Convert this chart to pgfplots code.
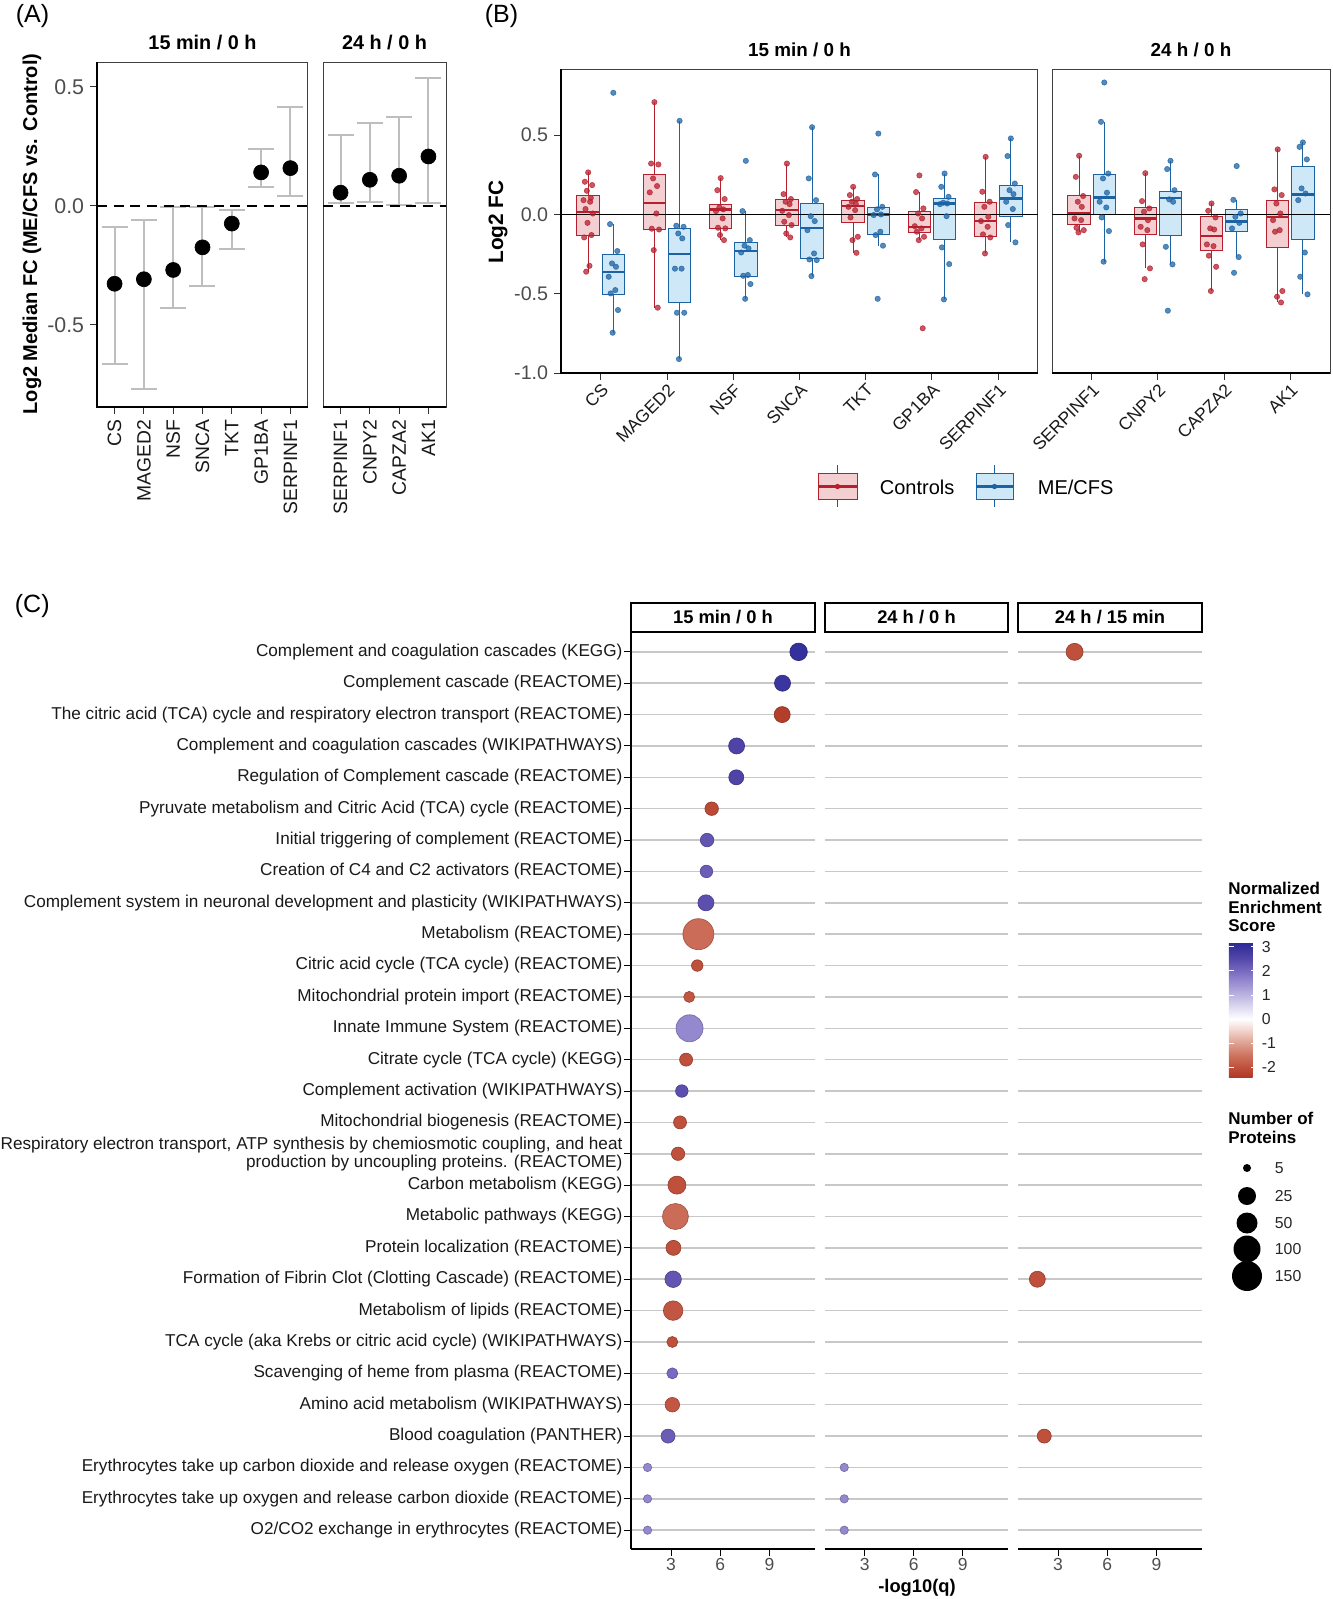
\documentclass[border=0pt]{standalone}
\usepackage{fontspec}
\setmainfont{Liberation Sans}
\usepackage{pgfplots}
\pgfplotsset{compat=1.18}
\usepgfplotslibrary{statistics}

\definecolor{ctrl}{HTML}{B51F2E}
\definecolor{ctrlfill}{HTML}{F3CFD1}
\definecolor{mecfs}{HTML}{1D63A3}
\definecolor{mefill}{HTML}{CFE8F8}
\definecolor{ticklab}{HTML}{4D4D4D}
\definecolor{errgray}{HTML}{BEBEBE}
\definecolor{gridgray}{HTML}{C8C8C8}

\pgfplotsset{
  colormap={nes}{rgb255(0pt)=(176,58,38) rgb255(4pt)=(190,80,60) rgb255(9pt)=(206,115,95)
    rgb255(14pt)=(222,160,145) rgb255(19pt)=(240,208,200) rgb255(24pt)=(255,255,255)
    rgb255(29pt)=(222,218,240) rgb255(34pt)=(188,180,225) rgb255(39pt)=(155,143,210)
    rgb255(44pt)=(120,106,192) rgb255(49pt)=(85,72,170) rgb255(56pt)=(40,40,150)},
  base/.style={scale only axis, clip=false, tick align=outside, tick pos=left,
    major tick length=4.2pt, tick style={black!80, line width=0.6pt},
    /pgf/number format/assume math mode=true,
    axis line style={black!75, line width=0.6pt}},
  fc/.style={yticklabel style={/pgf/number format/fixed, /pgf/number format/fixed zerofill,
    /pgf/number format/precision=1}},
  boxplot/box extend=0.34,
  boxplot/whisker extend=0,
  boxplot/draw direction=y,
  boxplot/every median/.style={line width=1.4pt},
  cbox/.style={draw=ctrl, fill=ctrlfill, line width=0.6pt, solid},
  mbox/.style={draw=mecfs, fill=mefill, line width=0.6pt, solid},
  cpts/.style={only marks, mark=*, mark size=1.6pt, color=ctrl, mark options={opacity=0.75}},
  mpts/.style={only marks, mark=*, mark size=1.6pt, color=mecfs, mark options={opacity=0.75}},
  ebar/.style={draw=none, mark=none, error bars/.cd, y dir=both, y explicit,
    error bar style={errgray, line width=1.2pt},
    error mark options={errgray, line width=1.2pt, mark size=7.8pt, rotate=90}},
  cpanel/.style={base, anchor=south west, height=549.6pt, xmin=0.56, xmax=11.78,
    ymin=0.4, ymax=29.6, xtick={3,6,9}, ytick={1,...,29},
    ymajorgrids, major grid style={gridgray, line width=0.9pt},
    axis x line*=bottom, axis y line*=left, axis line style={-, black, line width=0.9pt},
    tick align=outside, tick style={black, line width=0.6pt},
    xticklabel style={font=\fontsize{10.5}{12}\selectfont, text=ticklab, yshift=2pt},
    point meta min=-2.4, point meta max=3.2, colormap name=nes},
  cinner/.style={yticklabel=\empty, y axis line style={draw=none}, ytick style={draw=none}},
  bub/.style={scatter, only marks, mark=*, scatter src=explicit,
    visualization depends on={\thisrow{r} \as \rad},
    scatter/@pre marker code/.append style={/tikz/mark size=\rad pt}},
}

\begin{document}
\begin{tikzpicture}[x=0.6pt,y=-0.6pt]
\useasboundingbox (0,0) rectangle (1333,1599);
\coordinate (A1) at (97,407);
\coordinate (A2) at (323,407);
\coordinate (B1) at (561,373);
\coordinate (B2) at (1052,373);
\coordinate (C1) at (631,1549);
\coordinate (C2) at (825,1549);
\coordinate (C3) at (1018,1549);

% panel letters, facet titles, axis titles
\node[anchor=west, font=\fontsize{15}{18}\selectfont] at (10,16) {(A)};
\node[anchor=west, font=\fontsize{15}{18}\selectfont] at (479,16) {(B)};
\node[anchor=west, font=\fontsize{15}{18}\selectfont] at (9,606) {(C)};
\node[font=\bfseries\fontsize{11.9}{14}\selectfont] at (202.5,43) {15 min / 0 h};
\node[font=\bfseries\fontsize{11.9}{14}\selectfont] at (384.5,43) {24 h / 0 h};
\node[rotate=90, font=\bfseries\fontsize{12}{14}\selectfont] at (32,234) {Log2 Median FC (ME/CFS vs. Control)};
\node[font=\bfseries\fontsize{11.3}{14}\selectfont] at (799.5,50) {15 min / 0 h};
\node[font=\bfseries\fontsize{11.3}{14}\selectfont] at (1191,50) {24 h / 0 h};
\node[rotate=90, font=\bfseries\fontsize{12.5}{15}\selectfont] at (498,222) {Log2 FC};

% ---------------- (A) ----------------
\begin{axis}[base, fc, at={(A1)}, anchor=south west, width=126.6pt, height=207pt,
  xmin=0.4, xmax=7.6, ymin=-0.845, ymax=0.605,
  xtick={1,...,7}, xticklabels={CS,MAGED2,NSF,SNCA,TKT,GP1BA,SERPINF1},
  ytick={-0.5,0,0.5},
  xticklabel style={rotate=90, anchor=east, font=\fontsize{11.6}{13}\selectfont, text=black!90},
  yticklabel style={font=\fontsize{12.8}{14}\selectfont, text=ticklab}]
\addplot[ebar] table[x=x, y=y, y error plus=ep, y error minus=em, row sep=\\] {
  x y ep em \\
  1 -0.327 0.239 0.336 \\
  2 -0.308 0.248 0.462 \\
  3 -0.269 0.265 0.160 \\
  4 -0.174 0.170 0.164 \\
  5 -0.074 0.059 0.108 \\
  6 0.141 0.099 0.062 \\
  7 0.159 0.255 0.117 \\
};
\addplot[black, line width=1pt, dash pattern=on 6pt off 4pt] coordinates {(0.4,0) (7.6,0)};
\addplot[only marks, mark=*, mark size=4.5pt, black] table[x=x, y=y, row sep=\\] {
  x y \\ 1 -0.327 \\ 2 -0.308 \\ 3 -0.269 \\ 4 -0.174 \\ 5 -0.074 \\ 6 0.141 \\ 7 0.159 \\
};
\draw[black, line width=1.1pt] (rel axis cs:0,1) -- (rel axis cs:0,0) -- (rel axis cs:1,0);
\end{axis}

\begin{axis}[base, at={(A2)}, anchor=south west, width=73.8pt, height=207pt,
  xmin=0.4, xmax=4.6, ymin=-0.845, ymax=0.605,
  xtick={1,...,4}, xticklabels={SERPINF1,CNPY2,CAPZA2,AK1}, ytick=\empty,
  xticklabel style={rotate=90, anchor=east, font=\fontsize{11.6}{13}\selectfont, text=black!90}]
\addplot[ebar] table[x=x, y=y, y error plus=ep, y error minus=em, row sep=\\] {
  x y ep em \\
  1 0.056 0.241 0.042 \\
  2 0.110 0.237 0.093 \\
  3 0.127 0.246 0.125 \\
  4 0.208 0.330 0.194 \\
};
\addplot[black, line width=1pt, dash pattern=on 6pt off 4pt] coordinates {(0.4,0) (4.6,0)};
\addplot[only marks, mark=*, mark size=4.5pt, black] table[x=x, y=y, row sep=\\] {
  x y \\ 1 0.056 \\ 2 0.110 \\ 3 0.127 \\ 4 0.208 \\
};
\draw[black, line width=1.1pt] (rel axis cs:0,0) -- (rel axis cs:1,0);
\end{axis}

% ---------------- (B) ----------------
\begin{axis}[base, fc, at={(B1)}, anchor=south west, width=286.2pt, height=182.4pt,
  xmin=0.4, xmax=7.6, ymin=-1.0, ymax=0.917,
  xtick={1,...,7}, xticklabels={CS,MAGED2,NSF,SNCA,TKT,GP1BA,SERPINF1},
  ytick={-1,-0.5,0,0.5},
  xticklabel style={rotate=45, anchor=north east, inner sep=1pt, font=\fontsize{10.5}{12}\selectfont, text=black!90},
  yticklabel style={font=\fontsize{11.8}{14}\selectfont, text=ticklab}]
% Controls
\addplot[cbox, boxplot prepared={draw position=0.81, lower whisker=-0.361, lower quartile=-0.134, median=0.015, upper quartile=0.122, upper whisker=0.265}] coordinates {};
\addplot[cbox, boxplot prepared={draw position=1.81, lower whisker=-0.588, lower quartile=-0.092, median=0.074, upper quartile=0.250, upper whisker=0.708}] coordinates {};
\addplot[cbox, boxplot prepared={draw position=2.81, lower whisker=-0.162, lower quartile=-0.086, median=0.032, upper quartile=0.061, upper whisker=0.229}] coordinates {};
\addplot[cbox, boxplot prepared={draw position=3.81, lower whisker=-0.145, lower quartile=-0.071, median=0.027, upper quartile=0.097, upper whisker=0.321}] coordinates {};
\addplot[cbox, boxplot prepared={draw position=4.81, lower whisker=-0.242, lower quartile=-0.050, median=0.055, upper quartile=0.090, upper whisker=0.174}] coordinates {};
\addplot[cbox, boxplot prepared={draw position=5.81, lower whisker=-0.162, lower quartile=-0.116, median=-0.078, upper quartile=0.017, upper whisker=0.141}] coordinates {};
\addplot[cbox, boxplot prepared={draw position=6.81, lower whisker=-0.246, lower quartile=-0.137, median=-0.042, upper quartile=0.076, upper whisker=0.363}] coordinates {};
% ME/CFS
\addplot[mbox, boxplot prepared={draw position=1.19, lower whisker=-0.746, lower quartile=-0.502, median=-0.363, upper quartile=-0.252, upper whisker=-0.061}] coordinates {};
\addplot[mbox, boxplot prepared={draw position=2.19, lower whisker=-0.912, lower quartile=-0.553, median=-0.250, upper quartile=-0.088, upper whisker=0.590}] coordinates {};
\addplot[mbox, boxplot prepared={draw position=3.19, lower whisker=-0.532, lower quartile=-0.389, median=-0.229, upper quartile=-0.174, upper whisker=0.021}] coordinates {};
\addplot[mbox, boxplot prepared={draw position=4.19, lower whisker=-0.389, lower quartile=-0.277, median=-0.084, upper quartile=0.067, upper whisker=0.550}] coordinates {};
\addplot[mbox, boxplot prepared={draw position=5.19, lower whisker=-0.197, lower quartile=-0.126, median=0.000, upper quartile=0.042, upper whisker=0.252}] coordinates {};
\addplot[mbox, boxplot prepared={draw position=6.19, lower whisker=-0.536, lower quartile=-0.158, median=0.069, upper quartile=0.103, upper whisker=0.258}] coordinates {};
\addplot[mbox, boxplot prepared={draw position=7.19, lower whisker=-0.176, lower quartile=-0.015, median=0.101, upper quartile=0.185, upper whisker=0.479}] coordinates {};
\addplot[black, line width=1.1pt] coordinates {(0.4,0) (7.6,0)};
\addplot[cpts] coordinates {
 (0.81,0.265)(0.76,0.206)(0.87,0.185)(0.79,0.149)(0.85,0.105)(0.74,0.09)(0.84,0.08)(0.77,0.034)(0.88,0.006)(0.80,-0.053)(0.86,-0.13)(0.75,-0.145)(0.83,-0.324)(0.78,-0.361)
 (1.81,0.708)(1.76,0.321)(1.87,0.315)(1.79,0.227)(1.85,0.179)(1.74,0.139)(1.84,0.006)(1.77,-0.09)(1.88,-0.095)(1.80,-0.225)(1.86,-0.588)
 (2.81,0.229)(2.76,0.153)(2.87,0.097)(2.79,0.044)(2.85,0.032)(2.74,0.021)(2.84,-0.025)(2.77,-0.084)(2.88,-0.088)(2.80,-0.13)(2.86,-0.162)
 (3.81,0.321)(3.76,0.128)(3.87,0.097)(3.79,0.08)(3.85,0.065)(3.74,0.023)(3.84,-0.004)(3.77,-0.046)(3.88,-0.067)(3.80,-0.12)(3.86,-0.145)
 (4.81,0.174)(4.76,0.122)(4.87,0.097)(4.79,0.08)(4.85,0.065)(4.74,0.048)(4.84,0.027)(4.77,-0.019)(4.88,-0.141)(4.80,-0.162)(4.86,-0.242)
 (5.81,0.246)(5.76,0.141)(5.87,0.038)(5.79,0.006)(5.85,-0.025)(5.74,-0.074)(5.84,-0.088)(5.77,-0.109)(5.88,-0.141)(5.80,-0.162)(5.86,-0.718)
 (6.81,0.363)(6.76,0.143)(6.87,0.08)(6.79,0.048)(6.85,-0.015)(6.74,-0.042)(6.84,-0.078)(6.77,-0.126)(6.88,-0.145)(6.80,-0.246)
};
\addplot[mpts] coordinates {
 (1.19,0.767)(1.14,-0.061)(1.25,-0.231)(1.17,-0.309)(1.23,-0.33)(1.12,-0.393)(1.22,-0.477)(1.15,-0.498)(1.26,-0.603)(1.18,-0.746)
 (2.19,0.59)(2.14,-0.071)(2.25,-0.078)(2.17,-0.12)(2.23,-0.151)(2.12,-0.342)(2.22,-0.342)(2.15,-0.62)(2.26,-0.62)(2.18,-0.912)
 (3.19,0.338)(3.14,0.021)(3.25,-0.162)(3.17,-0.197)(3.23,-0.214)(3.12,-0.24)(3.22,-0.382)(3.15,-0.387)(3.26,-0.439)(3.18,-0.532)
 (4.19,0.55)(4.14,0.227)(4.25,0.09)(4.17,-0.011)(4.23,-0.042)(4.12,-0.099)(4.22,-0.246)(4.15,-0.284)(4.26,-0.288)(4.18,-0.389)
 (5.19,0.51)(5.14,0.252)(5.25,0.048)(5.17,0.032)(5.23,0.0)(5.12,-0.004)(5.22,-0.109)(5.15,-0.13)(5.26,-0.197)(5.18,-0.532)
 (6.19,0.258)(6.14,0.174)(6.25,0.111)(6.17,0.074)(6.23,0.069)(6.12,0.065)(6.22,-0.011)(6.15,-0.208)(6.26,-0.313)(6.18,-0.536)
 (7.19,0.479)(7.14,0.368)(7.25,0.195)(7.17,0.153)(7.23,0.128)(7.12,0.08)(7.22,0.034)(7.15,-0.067)(7.26,-0.176)
};
\draw[black, line width=1.1pt] (rel axis cs:0,1) -- (rel axis cs:0,0) -- (rel axis cs:1,0);
\end{axis}

\begin{axis}[base, at={(B2)}, anchor=south west, width=166.8pt, height=182.4pt,
  xmin=0.4, xmax=4.6, ymin=-1.0, ymax=0.917,
  xtick={1,...,4}, xticklabels={SERPINF1,CNPY2,CAPZA2,AK1}, ytick=\empty,
  xticklabel style={rotate=45, anchor=north east, inner sep=1pt, font=\fontsize{10.5}{12}\selectfont, text=black!90}]
\addplot[cbox, boxplot prepared={draw position=0.81, lower whisker=-0.113, lower quartile=-0.063, median=0.011, upper quartile=0.118, upper whisker=0.370}] coordinates {};
\addplot[cbox, boxplot prepared={draw position=1.81, lower whisker=-0.340, lower quartile=-0.124, median=-0.025, upper quartile=0.042, upper whisker=0.260}] coordinates {};
\addplot[cbox, boxplot prepared={draw position=2.81, lower whisker=-0.483, lower quartile=-0.225, median=-0.137, upper quartile=-0.015, upper whisker=0.069}] coordinates {};
\addplot[cbox, boxplot prepared={draw position=3.81, lower whisker=-0.555, lower quartile=-0.206, median=-0.015, upper quartile=0.086, upper whisker=0.410}] coordinates {};
\addplot[mbox, boxplot prepared={draw position=1.19, lower whisker=-0.298, lower quartile=0.002, median=0.107, upper quartile=0.252, upper whisker=0.584}] coordinates {};
\addplot[mbox, boxplot prepared={draw position=2.19, lower whisker=-0.315, lower quartile=-0.132, median=0.105, upper quartile=0.147, upper whisker=0.338}] coordinates {};
\addplot[mbox, boxplot prepared={draw position=3.19, lower whisker=-0.269, lower quartile=-0.107, median=-0.044, upper quartile=0.029, upper whisker=0.092}] coordinates {};
\addplot[mbox, boxplot prepared={draw position=4.19, lower whisker=-0.504, lower quartile=-0.158, median=0.126, upper quartile=0.305, upper whisker=0.454}] coordinates {};
\addplot[black, line width=1.1pt] coordinates {(0.4,0) (4.6,0)};
\addplot[cpts] coordinates {
 (0.81,0.37)(0.76,0.237)(0.87,0.116)(0.79,0.08)(0.85,0.048)(0.74,-0.025)(0.84,-0.036)(0.77,-0.084)(0.88,-0.099)(0.80,-0.113)
 (1.81,0.26)(1.76,0.084)(1.87,0.038)(1.79,0.017)(1.85,-0.036)(1.74,-0.078)(1.84,-0.099)(1.77,-0.189)(1.88,-0.34)(1.80,-0.408)
 (2.81,0.069)(2.76,0.023)(2.87,-0.019)(2.79,-0.088)(2.85,-0.095)(2.74,-0.189)(2.84,-0.2)(2.77,-0.26)(2.88,-0.33)(2.80,-0.483)
 (3.81,0.41)(3.76,0.158)(3.87,0.122)(3.79,0.069)(3.85,0.006)(3.74,-0.036)(3.84,-0.099)(3.77,-0.109)(3.88,-0.483)(3.80,-0.519)(3.86,-0.555)
};
\addplot[mpts] coordinates {
 (1.19,0.832)(1.14,0.584)(1.25,0.258)(1.17,0.227)(1.23,0.137)(1.12,0.08)(1.22,0.044)(1.15,-0.019)(1.26,-0.105)(1.18,-0.298)
 (2.19,0.338)(2.14,0.286)(2.25,0.153)(2.17,0.095)(2.23,0.08)(2.12,-0.204)(2.22,-0.315)(2.15,-0.607)
 (3.19,0.305)(3.14,0.092)(3.25,0.006)(3.17,-0.015)(3.23,-0.053)(3.12,-0.088)(3.22,-0.269)(3.15,-0.368)
 (4.19,0.454)(4.14,0.426)(4.25,0.347)(4.17,0.164)(4.23,0.132)(4.12,0.09)(4.22,-0.24)(4.15,-0.393)(4.26,-0.504)
};
\draw[black, line width=1.1pt] (rel axis cs:0,0) -- (rel axis cs:1,0);
\end{axis}

% legend of (B)
\draw[ctrl, line width=0.6pt] (837.5,465) -- (837.5,507);
\filldraw[draw=ctrl, fill=ctrlfill, line width=0.6pt] (818,473) rectangle (857,499);
\draw[ctrl, line width=1.4pt] (818,486.5) -- (857,486.5);
\fill[ctrl] (837.5,486.5) circle[radius=1.6pt];
\node[anchor=west, font=\fontsize{12}{14}\selectfont] at (874,487) {Controls};
\draw[mecfs, line width=0.6pt] (994.5,465) -- (994.5,507);
\filldraw[draw=mecfs, fill=mefill, line width=0.6pt] (976,473) rectangle (1013,499);
\draw[mecfs, line width=1.4pt] (976,486.5) -- (1013,486.5);
\fill[mecfs] (994.5,486.5) circle[radius=1.6pt];
\node[anchor=west, font=\fontsize{12}{14}\selectfont] at (1032,487) {ME/CFS};

% ---------------- (C) ----------------
\begin{axis}[cpanel, at={(C1)}, width=110.4pt,
  yticklabels={
    {O2/CO2 exchange in erythrocytes (REACTOME)},
    {Erythrocytes take up oxygen and release carbon dioxide (REACTOME)},
    {Erythrocytes take up carbon dioxide and release oxygen (REACTOME)},
    {Blood coagulation (PANTHER)},
    {Amino acid metabolism (WIKIPATHWAYS)},
    {Scavenging of heme from plasma (REACTOME)},
    {TCA cycle (aka Krebs or citric acid cycle) (WIKIPATHWAYS)},
    {Metabolism of lipids (REACTOME)},
    {Formation of Fibrin Clot (Clotting Cascade) (REACTOME)},
    {Protein localization (REACTOME)},
    {Metabolic pathways (KEGG)},
    {Carbon metabolism (KEGG)},
    {Respiratory electron transport, ATP synthesis by chemiosmotic coupling, and heat\\production by uncoupling proteins. (REACTOME)},
    {Mitochondrial biogenesis (REACTOME)},
    {Complement activation (WIKIPATHWAYS)},
    {Citrate cycle (TCA cycle) (KEGG)},
    {Innate Immune System (REACTOME)},
    {Mitochondrial protein import (REACTOME)},
    {Citric acid cycle (TCA cycle) (REACTOME)},
    {Metabolism (REACTOME)},
    {Complement system in neuronal development and plasticity (WIKIPATHWAYS)},
    {Creation of C4 and C2 activators (REACTOME)},
    {Initial triggering of complement (REACTOME)},
    {Pyruvate metabolism and Citric Acid (TCA) cycle (REACTOME)},
    {Regulation of Complement cascade (REACTOME)},
    {Complement and coagulation cascades (WIKIPATHWAYS)},
    {The citric acid (TCA) cycle and respiratory electron transport (REACTOME)},
    {Complement cascade (REACTOME)},
    {Complement and coagulation cascades (KEGG)}},
  yticklabel style={align=right, xshift=2.6pt, font=\fontsize{10.3}{11}\selectfont, text=black!90}]
\addplot[bub] table[x=x, y=y, meta=c, row sep=\\] {
  x y c r \\
  10.78 29 3.0 5.25 \\
  9.80 28 2.9 4.8 \\
  9.78 27 -2.3 4.8 \\
  7.00 26 2.6 4.8 \\
  6.98 25 2.6 4.5 \\
  5.48 24 -2.1 4.05 \\
  5.20 23 2.3 4.05 \\
  5.16 22 2.2 3.75 \\
  5.13 21 2.4 4.8 \\
  4.67 20 -1.6 9.3 \\
  4.60 19 -2.0 3.45 \\
  4.11 18 -1.9 3.3 \\
  4.13 17 1.6 8.1 \\
  3.92 16 -2.0 3.9 \\
  3.66 15 2.4 3.75 \\
  3.55 14 -2.0 3.9 \\
  3.43 13 -2.0 4.0 \\
  3.36 12 -2.0 5.4 \\
  3.27 11 -1.6 7.8 \\
  3.15 10 -2.0 4.5 \\
  3.13 9 2.3 4.95 \\
  3.13 8 -1.9 5.85 \\
  3.08 7 -2.0 3.3 \\
  3.08 6 2.0 3.3 \\
  3.08 5 -1.9 4.35 \\
  2.82 4 2.2 4.2 \\
  1.57 3 1.6 2.5 \\
  1.57 2 1.6 2.5 \\
  1.57 1 1.6 2.5 \\
};
\end{axis}

\begin{axis}[cpanel, cinner, at={(C2)}, width=109.8pt]
\addplot[bub] table[x=x, y=y, meta=c, row sep=\\] {
  x y c r \\
  1.74 3 1.6 2.5 \\
  1.74 2 1.6 2.5 \\
  1.74 1 1.6 2.5 \\
};
\end{axis}

\begin{axis}[cpanel, cinner, at={(C3)}, width=110.4pt,
  colorbar, colorbar style={at={(parent axis.north east)}, anchor=north west,
    xshift=7.6pt, yshift=-185.4pt, scale only axis, width=16.2pt, height=81pt,
    ytick={-2,-1,0,1,2,3}, ytick pos=both, yticklabel pos=right, tick align=inside,
    major tick length=3pt, tick style={draw=white, line width=0.6pt},
    axis line style={draw=none},
    /pgf/number format/assume math mode=true,
    yticklabel style={font=\fontsize{9.5}{11}\selectfont, text=black!85}}]
\addplot[bub] table[x=x, y=y, meta=c, row sep=\\] {
  x y c r \\
  4.01 29 -2.0 5.1 \\
  1.74 9 -2.0 4.8 \\
  2.16 4 -2.0 4.2 \\
};
\end{axis}

% facet strips of (C)
\foreach \l/\r/\t in {631/815/{15 min / 0 h}, 825/1008/{24 h / 0 h}, 1018/1202/{24 h / 15 min}}{
  \draw[black, line width=0.9pt] (\l,603) rectangle (\r,632);
  \node[font=\bfseries\fontsize{11}{13}\selectfont] at ({(\l+\r)/2},617.5) {\t};
}
\node[font=\bfseries\fontsize{11}{13}\selectfont] at (917,1588) {-log10(q)};

% legends of (C)
\node[anchor=north west, align=left, inner sep=0pt, font=\bfseries\fontsize{10.2}{11.1}\selectfont] at (1228,882) {Normalized\\Enrichment\\Score};
\node[anchor=north west, align=left, inner sep=0pt, font=\bfseries\fontsize{10.2}{11.1}\selectfont] at (1228,1112) {Number of\\Proteins};
\foreach \yy/\rr/\lab in {1168/2.4/5, 1196/5.4/25, 1223/6.3/50, 1249/8.1/100, 1276/9/150}{
  \fill[black] (1247,\yy) circle[radius=\rr pt];
  \node[anchor=west, font=\fontsize{9.5}{11}\selectfont, text=black!85] at (1269,\yy) {\lab};
}
\end{tikzpicture}
\end{document}
